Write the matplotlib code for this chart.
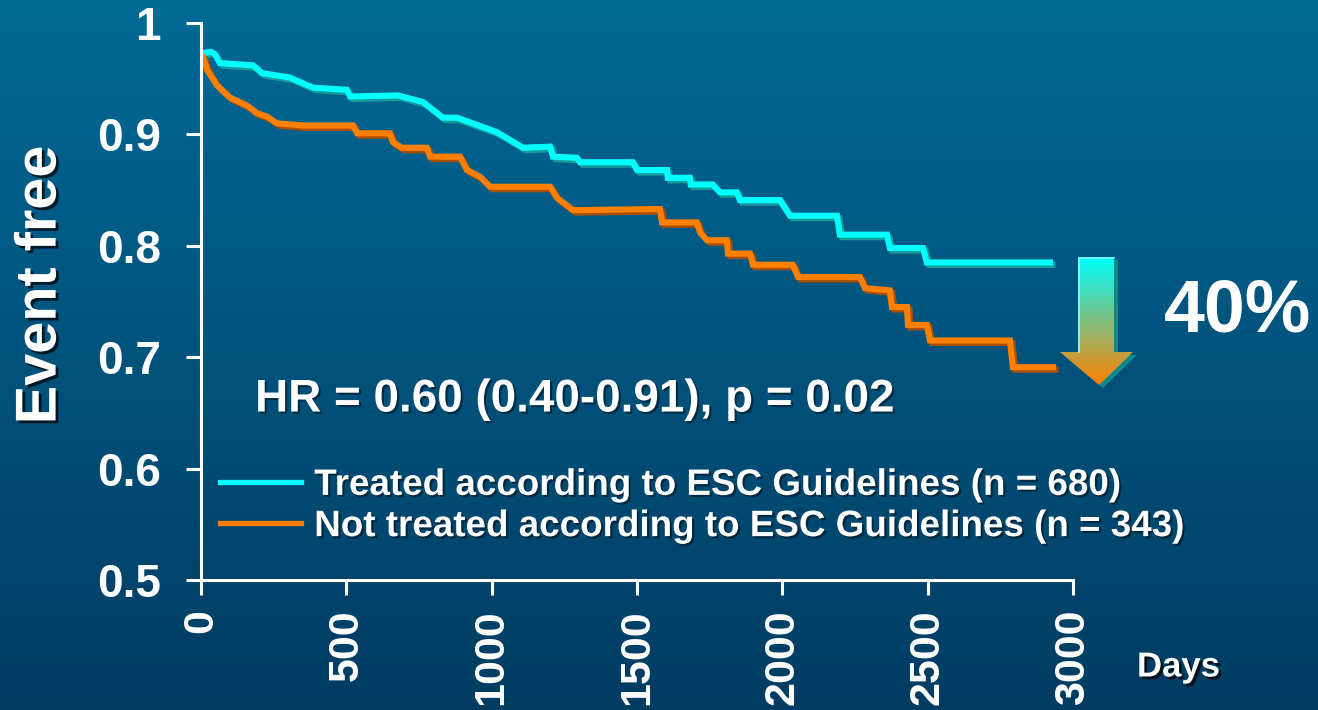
import numpy as np
import matplotlib
matplotlib.use("Agg")
import matplotlib.pyplot as plt
from matplotlib import patheffects as pe
from matplotlib.patches import Polygon

# Kaplan-Meier curves (days, event free proportion)
treated_days = [7, 35, 48, 65, 179, 210, 306, 385, 502, 513, 678, 764, 832, 881,
                1018, 1108, 1201, 1211, 1293, 1304, 1486, 1500, 1603, 1606, 1682,
                1685, 1761, 1785, 1844, 1854, 1992, 2026, 2188, 2198, 2360, 2370,
                2484, 2497, 2921]
treated_surv = [0.973, 0.974, 0.972, 0.964, 0.962, 0.955, 0.951, 0.942, 0.940, 0.934,
                0.935, 0.929, 0.915, 0.915, 0.902, 0.888, 0.889, 0.880, 0.879, 0.875,
                0.875, 0.868, 0.868, 0.861, 0.861, 0.855, 0.855, 0.848, 0.848, 0.841,
                0.841, 0.827, 0.827, 0.810, 0.810, 0.798, 0.798, 0.785, 0.785]

untreated_days = [7, 21, 55, 100, 158, 193, 227, 261, 351, 523, 537, 650, 660, 691,
                  777, 788, 891, 915, 960, 994, 1201, 1225, 1280, 1579, 1586, 1706,
                  1717, 1741, 1809, 1813, 1889, 1899, 2036, 2054, 2267, 2284, 2370,
                  2377, 2429, 2432, 2497, 2508, 2783, 2793, 2931]
untreated_surv = [0.969, 0.958, 0.944, 0.933, 0.926, 0.919, 0.916, 0.910, 0.908, 0.908,
                  0.901, 0.901, 0.893, 0.888, 0.888, 0.880, 0.880, 0.868, 0.862, 0.853,
                  0.853, 0.843, 0.832, 0.833, 0.821, 0.821, 0.812, 0.805, 0.805, 0.793,
                  0.793, 0.783, 0.783, 0.772, 0.772, 0.762, 0.760, 0.745, 0.745, 0.729,
                  0.729, 0.715, 0.715, 0.691, 0.691]

series_labels = ["Treated according to ESC Guidelines (n = 680)",
                 "Not treated according to ESC Guidelines (n = 343)"]
x_ticks = [0, 500, 1000, 1500, 2000, 2500, 3000]
y_ticks = [0.5, 0.6, 0.7, 0.8, 0.9, 1.0]
y_tick_labels = ["0.5", "0.6", "0.7", "0.8", "0.9", "1"]
hr_text = "HR = 0.60 (0.40-0.91), p = 0.02"
reduction_text = "40%"

CYAN = "#00FFFF"
ORANGE = "#FF8000"
W, H = 1318, 710

plt.rcParams["font.family"] = ["Liberation Sans", "DejaVu Sans"]
plt.rcParams["font.weight"] = "bold"

fig = plt.figure(figsize=(W / 100, H / 100), dpi=100)

# background gradient + arrow live in a full-figure pixel axes
bg = fig.add_axes([0, 0, 1, 1], zorder=0)
top = np.array([0, 106, 150]) / 255
bot = np.array([0, 60, 98]) / 255
t = np.linspace(0, 1, 256)[:, None]
grad = (top * (1 - t) + bot * t)[:, None, :]
bg.imshow(grad, extent=(0, W, H, 0), aspect="auto")

arrow_pts = [(1078, 257), (1114, 257), (1114, 352), (1133, 352), (1099, 385),
             (1060, 352), (1078, 352)]
shadow = Polygon([(x + 4, y + 3) for x, y in arrow_pts], closed=True,
                 facecolor="#0e8a8a", edgecolor="none")
bg.add_patch(shadow)
body = Polygon(arrow_pts, closed=True, facecolor="none", edgecolor="none")
bg.add_patch(body)
c1 = np.array([0, 255, 255]) / 255
c2 = np.array([255, 128, 0]) / 255
ag = (c1 * (1 - t) + c2 * t)[:, None, :]
im = bg.imshow(ag, extent=(1060, 1133, 385, 257), aspect="auto", zorder=3)
im.set_clip_path(body)
bg.plot([1078.5, 1078.5, 1114], [352, 257.5, 257.5], color="#8ff", lw=1.2, zorder=4)
bg.set_xlim(0, W)
bg.set_ylim(H, 0)
bg.axis("off")

ax = fig.add_axes([201 / W, 1 - 580 / H, (1073 - 201) / W, (580 - 23) / H], zorder=1)
ax.set_facecolor("none")

def shade(c):
    return [pe.SimpleLineShadow(offset=(1.8, -1.8), shadow_color=c, alpha=1),
            pe.Normal()]

l1, = ax.plot(treated_days, treated_surv, color=CYAN, lw=4.4,
              solid_joinstyle="miter", path_effects=shade("#169a9a"),
              label=series_labels[0])
l2, = ax.plot(untreated_days, untreated_surv, color=ORANGE, lw=4.4,
              solid_joinstyle="miter", path_effects=shade("#a84e08"),
              label=series_labels[1])

ax.set_xlim(0, 3000)
ax.set_ylim(0.5, 1.0)
ax.set_xticks(x_ticks)
ax.set_xticklabels([str(v) for v in x_ticks], rotation=90, va="top")
ax.set_yticks(y_ticks)
ax.set_yticklabels(y_tick_labels)
for s in ["top", "right"]:
    ax.spines[s].set_visible(False)
for s in ["left", "bottom"]:
    ax.spines[s].set_color("white")
    ax.spines[s].set_linewidth(2.2)
ax.tick_params(axis="both", colors="white", width=2.2, length=11)
ax.tick_params(axis="y", pad=18, labelsize=33)
ax.tick_params(axis="x", pad=10, labelsize=31)
for lab in ax.get_xticklabels() + ax.get_yticklabels():
    lab.set_fontweight("bold")

txt_shadow = [pe.withSimplePatchShadow(offset=(2, -2), shadow_rgbFace="black", alpha=0.7)]
soft_shadow = [pe.withSimplePatchShadow(offset=(1.5, -1.5), shadow_rgbFace="black", alpha=0.45)]
ax.set_ylabel("Event free", color="white", fontsize=41.5, fontweight="bold",
              path_effects=txt_shadow)
ax.yaxis.set_label_coords(-0.153, 0.53)

ax.text(186, 0.662, hr_text, color="white", fontsize=33, fontweight="bold",
        va="center", ha="left", path_effects=soft_shadow)

fig.text(1137 / W, 1 - 667 / H, "Days", color="white", fontsize=25,
         fontweight="bold", va="center", ha="left", path_effects=txt_shadow)
fig.text(1164 / W, 1 - 312 / H, reduction_text, color="white", fontsize=53,
         fontweight="bold", va="center", ha="left")

leg = ax.legend(handles=[l1, l2], loc="center left",
                bbox_to_anchor=(220 / W, 1 - 506 / H), bbox_transform=fig.transFigure,
                frameon=False, fontsize=26.5, handlelength=2.2, handletextpad=0.36,
                labelspacing=0.17, borderpad=0, borderaxespad=0)
for txt in leg.get_texts():
    txt.set_color("white")
    txt.set_fontweight("bold")
    txt.set_path_effects(soft_shadow)
for h in leg.legend_handles:
    h.set_path_effects([])
    h.set_linewidth(3.8)

fig.savefig("out.png", dpi=100)
